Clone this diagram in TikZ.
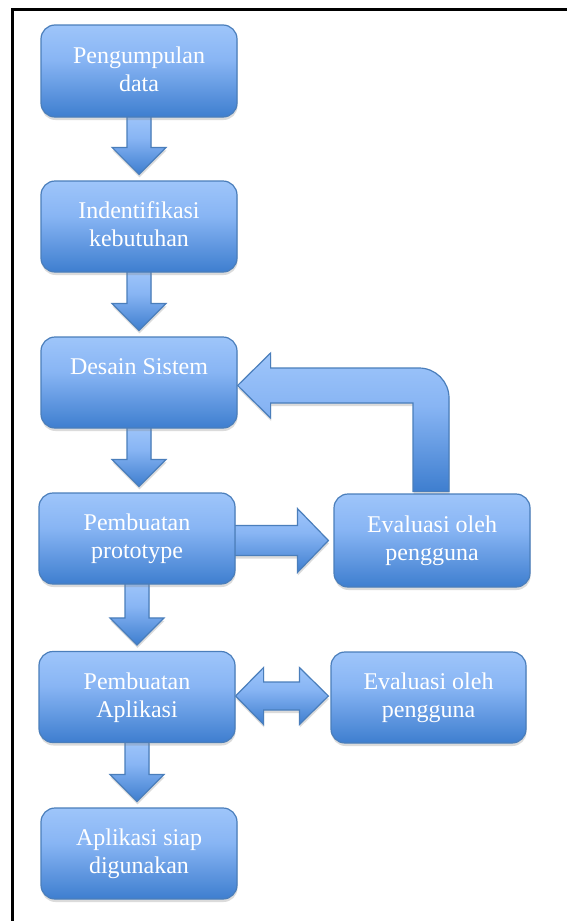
\documentclass[tikz,border=0pt]{standalone}
\usepackage{fontspec}
\setmainfont{Liberation Serif}
\usetikzlibrary{calc,shadows}
\definecolor{topc}{RGB}{158,197,250}
\definecolor{midc}{RGB}{136,181,244}
\definecolor{botc}{RGB}{62,126,207}
\definecolor{edgec}{RGB}{74,126,187}
\pgfdeclareverticalshading{officeblue}{100bp}{color(0bp)=(botc); color(25bp)=(botc); color(56bp)=(midc); color(75bp)=(topc); color(100bp)=(topc)}
\pgfdeclarelayer{bg}
\pgfdeclarelayer{paper}
\pgfsetlayers{paper,bg,main}
\tikzset{
  softshadow/.style={drop shadow={shadow xshift=0.5pt, shadow yshift=-3pt, opacity=0.28}},
  stepbox/.style={draw=edgec, line width=1.2pt, rounded corners=14pt, shade, shading=officeblue,
    minimum width=196pt, minimum height=91pt, text=white, font=\fontsize{24}{28}\selectfont,
    align=center, text height=44pt, text depth=4pt, inner sep=0pt, softshadow},
  oneline/.style={text height=16pt, text depth=32pt},
  blockarrow/.style={draw=edgec, line width=1.2pt, shade, shading=officeblue, line join=miter, softshadow}
}
\newcommand\downblock[2]{%
  \path[blockarrow] let \p1=(#1.south), \p2=(#2.north) in
    (\x1-12pt,\y1+2pt) -- (\x1-12pt,\y2+33pt) -- (\x1-27pt,\y2+33pt) -- (\x1,\y2+6pt)
    -- (\x1+27pt,\y2+33pt) -- (\x1+12pt,\y2+33pt) -- (\x1+12pt,\y1+2pt) -- cycle;}
\begin{document}
\begin{tikzpicture}[x=1pt,y=1pt]
\useasboundingbox (0,0) rectangle (566,-921);
\begin{pgfonlayer}{paper}
\fill[white] (0,0) rectangle (566,-921);
\draw[line width=3pt] (12.5,-940) -- (12.5,-9.7) -- (600,-9.7);
\end{pgfonlayer}

\node[stepbox, minimum height=92pt] (b1) at (139,-71) {Pengumpulan\\data};
\node[stepbox] (b2) at (139,-226.5) {Indentifikasi\\kebutuhan};
\node[stepbox, oneline] (b3) at (139,-382.5) {Desain Sistem};
\node[stepbox] (b4) at (137,-538.5) {Pembuatan\\prototype};
\node[stepbox] (b5) at (137,-697) {Pembuatan\\Aplikasi};
\node[stepbox] (b6) at (139,-853.5) {Aplikasi siap\\digunakan};
\node[stepbox, minimum height=93pt] (e1) at (432,-540.5) {Evaluasi oleh\\pengguna};
\node[stepbox, minimum width=195pt] (e2) at (428.5,-697.5) {Evaluasi oleh\\pengguna};

\begin{pgfonlayer}{bg}
\downblock{b1}{b2}
\downblock{b2}{b3}
\downblock{b3}{b4}
\downblock{b4}{b5}
\downblock{b5}{b6}
% prototype -> evaluasi
\path[blockarrow] let \p1=(b4.east), \p2=(e1.west) in
  (\x1-2pt,\y2+15pt) -- (\x2-36pt,\y2+15pt) -- (\x2-36pt,\y2+32pt) -- (\x2-5pt,\y2)
  -- (\x2-36pt,\y2-32pt) -- (\x2-36pt,\y2-15pt) -- (\x1-2pt,\y2-15pt) -- cycle;
% evaluasi -> desain (loop)
\path[blockarrow] let \p1=(e1.north), \p2=(b3.east), \p3=($(b3.east)+(0,-3pt)$) in
  (\x1-19pt,\y1+2pt) -- (\x1+17pt,\y1+2pt) -- (\x1+17pt,\y3-12.5pt)
  arc[start angle=0, end angle=90, radius=30pt]
  -- (\x2+33pt,\y3+17.5pt) -- (\x2+33pt,\y3+32.5pt) -- (\x2,\y3)
  -- (\x2+33pt,\y3-32.5pt) -- (\x2+33pt,\y3-17.5pt) -- (\x1-19pt,\y3-17.5pt) -- cycle;
% aplikasi <-> evaluasi
\path[blockarrow] let \p1=(b5.east), \p2=(e2.west), \p3=($(b5.east)+(0,1pt)$) in
  (\x1,\y3) -- (\x1+28pt,\y3+28.5pt) -- (\x1+28pt,\y3+14pt) -- (\x2-31pt,\y3+14pt)
  -- (\x2-31pt,\y3+28.5pt) -- (\x2-2pt,\y3) -- (\x2-31pt,\y3-28.5pt) -- (\x2-31pt,\y3-14pt)
  -- (\x1+28pt,\y3-14pt) -- (\x1+28pt,\y3-28.5pt) -- cycle;
\end{pgfonlayer}
\end{tikzpicture}
\end{document}
